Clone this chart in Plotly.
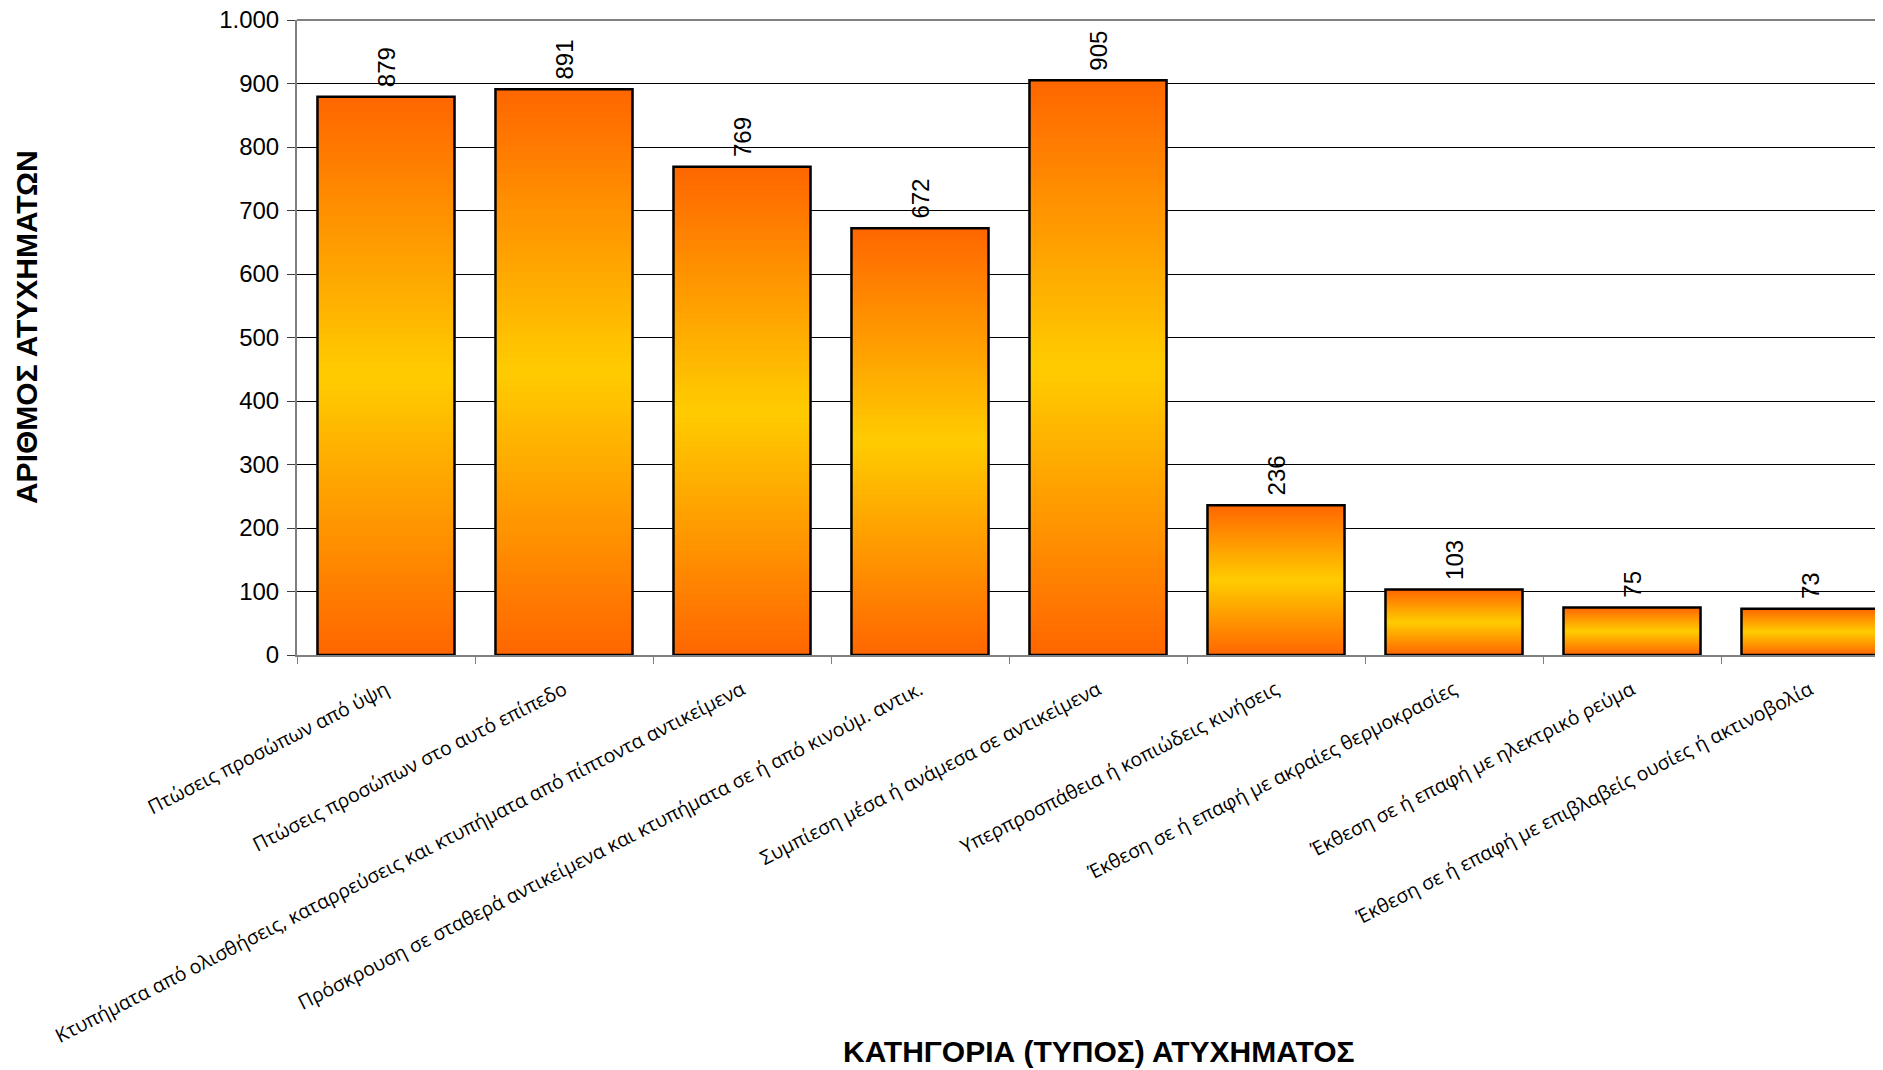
import plotly.graph_objects as go

categories = [
    "Πτώσεις προσώπων από ύψη",
    "Πτώσεις προσώπων στο αυτό επίπεδο",
    "Κτυπήματα από ολισθήσεις, καταρρεύσεις και κτυπήματα από πίπτοντα αντικείμενα",
    "Πρόσκρουση σε σταθερά αντικείμενα και κτυπήματα σε ή από κινούμ. αντικ.",
    "Συμπίεση μέσα ή ανάμεσα σε αντικείμενα",
    "Υπερπροσπάθεια ή κοπιώδεις κινήσεις",
    "Έκθεση σε ή επαφή με ακραίες θερμοκρασίες",
    "Έκθεση σε ή επαφή με ηλεκτρικό ρεύμα",
    "Έκθεση σε ή επαφή με επιβλαβείς ουσίες ή ακτινοβολία",
]
values = [879, 891, 769, 672, 905, 236, 103, 75, 73]
y_ticks = [0, 100, 200, 300, 400, 500, 600, 700, 800, 900, 1000]
y_tick_labels = ["0", "100", "200", "300", "400", "500", "600", "700", "800", "900", "1.000"]

ORANGE = (255, 102, 0)
YELLOW = (255, 204, 0)
N = 80

fig = go.Figure()
# gradient: each slice spans from its start up to the bar top; later slices cover the upper part
for i in range(N):
    t = (i + 0.5) / N
    f = 1 - abs(2 * t - 1)
    c = tuple(round(ORANGE[k] + (YELLOW[k] - ORANGE[k]) * f) for k in range(3))
    fig.add_trace(go.Bar(
        x=categories,
        y=[v * (1 - i / N) for v in values],
        base=[v * i / N for v in values],
        marker=dict(color="rgb(%d,%d,%d)" % c, line=dict(width=0)),
        hoverinfo="skip",
        showlegend=False,
    ))

fig.add_trace(go.Bar(
    x=categories,
    y=values,
    marker=dict(color="rgba(0,0,0,0)", line=dict(color="black", width=2.5)),
    text=["\u00a0" + str(v) for v in values],
    textposition="outside",
    textangle=-90,
    constraintext="none",
    textfont=dict(family="Liberation Sans, Arial", size=24, color="black"),
    cliponaxis=False,
    showlegend=False,
))

fig.update_layout(
    barmode="overlay",
    bargap=0.23,
    width=1883,
    height=1070,
    margin=dict(l=289, r=0, t=12, b=423, autoexpand=False),
    plot_bgcolor="white",
    paper_bgcolor="white",
    font=dict(family="Liberation Sans, Arial", color="black"),
)
fig.update_xaxes(
    type="category",
    range=[-0.5, 8.455],
    tickangle=-27,
    tickfont=dict(family="Open Sans", size=19.5, color="black"),
    ticklabelstandoff=14,
    automargin=False,
    showline=True, linecolor="#808080", linewidth=2,
    ticks="outside", tickson="boundaries", ticklen=7, tickcolor="#808080", tickwidth=1,
    showgrid=False,
)
fig.update_yaxes(
    range=[0, 1000],
    tickvals=y_ticks,
    ticktext=y_tick_labels,
    tickfont=dict(family="Liberation Sans, Arial", size=24, color="black"),
    ticklabelstandoff=3,
    ticklabeloverflow="allow",
    automargin=False,
    showline=True, linecolor="#808080", linewidth=2,
    ticks="outside", ticklen=8, tickcolor="#404040", tickwidth=1,
    showgrid=True, gridcolor="black", gridwidth=1,
    zeroline=False,
)
fig.add_shape(type="line", xref="paper", yref="paper", x0=0, x1=1, y0=1, y1=1,
              line=dict(color="#808080", width=2))
fig.add_annotation(
    text="<b>ΚΑΤΗΓΟΡΙΑ (ΤΥΠΟΣ) ΑΤΥΧΗΜΑΤΟΣ</b>",
    xref="paper", yref="paper", x=0.503, y=-0.625, xanchor="center", yanchor="middle",
    showarrow=False, font=dict(family="Liberation Sans, Arial", size=30, color="black"),
)
fig.add_annotation(
    text="<b>ΑΡΙΘΜΟΣ ΑΤΥΧΗΜΑΤΩΝ</b>",
    xref="paper", yref="paper", x=-0.170, y=0.5165, xanchor="center", yanchor="middle",
    textangle=-90,
    showarrow=False, font=dict(family="Liberation Sans, Arial", size=30, color="black"),
)

fig.write_html("out.html")
